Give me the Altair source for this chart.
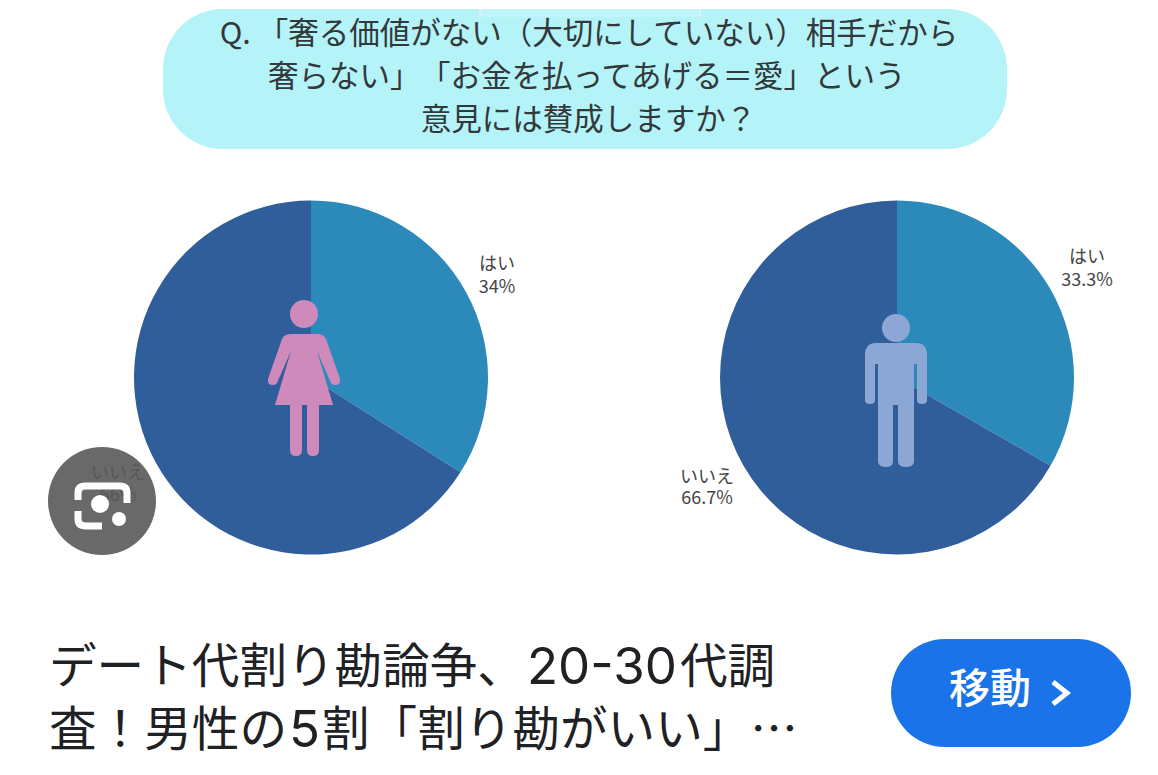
import altair as alt
import pandas as pd

# ---- data ----
answers = ["はい", "いいえ"]
female_values = [34, 66]
male_values = [33.3, 66.7]
question_first = "Q. 「奢る価値がない（大切にしていない）相手だから"
question_second = ["奢らない」", "「お金を払ってあげる＝愛」という"]
question_third = "意見には賛成しますか？"
headline_first = ["デート代割り勘論争、", "20-30", "代調"]
headline_second = ["査！男性の", "5", "割「割り勘がいい」…"]
female_labels = [["はい", "34%"], ["いいえ", "66%"]]
male_labels = [["はい", "33.3%"], ["いいえ", "66.7%"]]
button_label = "移動"

FONT = "Noto Sans CJK JP"
DIGIT_FONT = "Inter"
W, H = 1158, 775
xs = alt.Scale(domain=[8, W - 8], range=[0, W - 16], nice=False, zero=False)
ys = alt.Scale(domain=[8, H - 8], range=[0, H - 16], nice=False, zero=False)

def X(f="x"):
    return alt.X(f"{f}:Q", scale=xs, axis=None)

def Y(f="y"):
    return alt.Y(f"{f}:Q", scale=ys, axis=None)

def rect(x0, x1, y0, y1, **kw):
    d = pd.DataFrame({"x": [x0], "x2": [x1], "y": [y0], "y2": [y1]})
    return alt.Chart(d).mark_rect(**kw).encode(x=X(), x2="x2:Q", y=Y(), y2="y2:Q")

def vrule(x, y0, y1, color):
    d = pd.DataFrame({"x": [x], "y": [y0], "y2": [y1]})
    return alt.Chart(d).mark_rule(color=color, strokeWidth=1.5).encode(x=X(), y=Y(), y2="y2:Q")

def text(rows, font=FONT, **kw):
    d = pd.DataFrame(rows, columns=["x", "y", "t"])
    return alt.Chart(d).mark_text(font=font, baseline="middle", **kw).encode(x=X(), y=Y(), text="t:N")

def glyph(x, y, path, **kw):
    d = pd.DataFrame({"x": [x], "y": [y]})
    return alt.Chart(d).mark_point(shape=path, size=4, opacity=1, **kw).encode(x=X(), y=Y())

def disc(x, y, r, color, opacity=1):
    d = pd.DataFrame({"x": [x], "y": [y]})
    return alt.Chart(d).mark_circle(size=4 * r * r, color=color, opacity=opacity).encode(x=X(), y=Y())

def pie(cx, cy, values):
    d = pd.DataFrame({"a": answers, "v": values, "o": [0, 1]})
    return alt.Chart(d).mark_arc(radius=177, stroke=None).encode(
        theta=alt.Theta("v:Q", stack=True),
        order=alt.Order("o:Q"),
        color=alt.Color("a:N", scale=alt.Scale(domain=answers, range=["#2b8aba", "#2f5e9b"]), legend=None),
        x=alt.value(cx - 8),
        y=alt.value(cy - 8),
    )

WOMAN = ("M-12,-47 Q-20,-47 -22,-42 L-36,-2 Q-37,4 -31,4 Q-28,4 -27,2 L-13,-30 L-29,24 L-14,24 "
         "L-14,69 Q-14,75 -8,75 Q-2,75 -2,69 L-2,24 L3,24 L3,69 Q3,75 9,75 Q15,75 15,69 L15,24 L29,24 "
         "L13,-30 L27,2 Q28,4 31,4 Q37,4 36,-2 L22,-42 Q20,-47 12,-47 Z")
MAN = ("M-20,-58 Q-31,-58 -31,-46 L-31,-1 Q-31,3 -26,3 Q-21,3 -21,-1 L-21,-37 L-18,-37 L-18,60 "
       "Q-18,66 -10,66 Q-3,66 -3,60 L-3,4 L2,4 L2,60 Q2,66 10,66 Q18,66 18,60 L18,-37 L21,-37 L21,-1 "
       "Q21,3 26,3 Q31,3 31,-1 L31,-46 Q31,-58 20,-58 Z")
LENS_TOP = "M-24,-1 L-24,-8 Q-24,-15 -17,-15 L18,-15 Q25,-15 25,-8 L25,2"
LENS_LOW = "M-24,10 L-24,18 Q-24,25 -16,25 L0,25"
CHEVRON = "M-7,-11 L7,0 L-7,11"

layers = [
    rect(163, 1007, 8, 148, color="#b4f3f7", cornerRadius=60),
    rect(480, 700, 8, 16, fill="#ffffff", fillOpacity=0.15),
    vrule(480, 8, 16, "#e4f2f3"),
    vrule(700, 8, 16, "#e4f2f3"),
    text([(589, 34, question_first), (588.5, 120, question_third)],
         fontSize=30.5, color="#33383a", align="center"),
    text([(268, 77, question_second[0]), (420, 77, question_second[1])],
         fontSize=30.5, color="#33383a", align="left"),
    pie(311, 376.5, female_values),
    pie(897, 376.5, male_values),
    disc(304, 313, 14, "#cf8abc"),
    glyph(304, 380, WOMAN, filled=True, fill="#cf8abc", strokeWidth=0),
    disc(896, 327, 14, "#8da7d5"),
    glyph(896, 400, MAN, filled=True, fill="#8da7d5", strokeWidth=0),
    text([(497, 264, female_labels[0][0]), (497, 287, female_labels[0][1]),
          (118, 473, female_labels[1][0]), (118, 495, female_labels[1][1]),
          (1087, 257, male_labels[0][0]), (1087, 280, male_labels[0][1]),
          (707, 477, male_labels[1][0]), (707, 498, male_labels[1][1])],
         fontSize=18, color="#454545", align="center"),
    disc(102, 500, 54, "#595959", 0.9),
    glyph(102, 500, LENS_TOP, filled=False, stroke="#ffffff", strokeWidth=7),
    glyph(102, 500, LENS_LOW, filled=False, stroke="#ffffff", strokeWidth=7),
    disc(100, 503, 9, "#ffffff"),
    disc(119, 518, 7, "#ffffff"),
    text([(49, 668, headline_first[0]), (680, 668, headline_first[2]),
          (49, 731, headline_second[0]), (322, 731, headline_second[2])],
         fontSize=47.6, color="#202124", align="left"),
    text([(527, 668, headline_first[1]), (289, 731, headline_second[1])], font=DIGIT_FONT,
         fontSize=51, color="#202124", align="left"),
    rect(891, 1131, 638, 746, color="#1a73e8", cornerRadius=54),
    text([(990, 690, button_label)], fontSize=41, fontWeight=500, color="#ffffff", align="center"),
    glyph(1060, 692, CHEVRON, filled=False, stroke="#ffffff", strokeWidth=5),
]

chart = alt.layer(*layers).properties(
    width=W - 16, height=H - 16, padding=0, background="#ffffff",
    view=alt.ViewConfig(stroke=None),
).resolve_scale(color="independent")

chart.save("out.html", embed_options={"renderer": "svg", "actions": False})
